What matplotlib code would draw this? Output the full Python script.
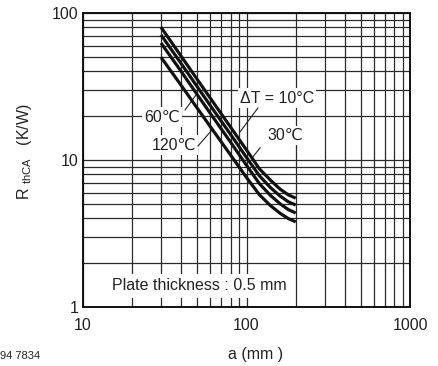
import matplotlib
matplotlib.use("Agg")
import matplotlib.pyplot as plt
from matplotlib.ticker import LogLocator, NullFormatter, FixedLocator, FixedFormatter

plt.rcParams['font.family'] = ['Liberation Sans', 'DejaVu Sans']
plt.rcParams['mathtext.fontset'] = 'custom'
plt.rcParams['mathtext.rm'] = 'Liberation Sans'
plt.rcParams['mathtext.it'] = 'Liberation Sans'

# data
a_mm = [30, 40, 50, 60, 80, 100, 120, 140, 160, 180, 200]
r_dt10 = [80, 50.5, 35.3, 26.4, 16.7, 11.7, 8.7, 7.3, 6.35, 5.8, 5.5]
r_dt30 = [71, 45, 31.5, 23.5, 14.9, 10.4, 7.8, 6.5, 5.7, 5.2, 4.94]
r_dt60 = [62.5, 39.8, 27.8, 20.8, 13.2, 9.2, 6.9, 5.75, 5.05, 4.6, 4.36]
r_dt120 = [50, 32, 22.5, 16.9, 10.8, 7.6, 5.8, 4.9, 4.35, 4.0, 3.79]
x_ticks = [10, 100, 1000]
x_tick_labels = ['10', '100', '1000']
y_ticks = [1, 10, 100]
y_tick_labels = ['1', '10', '100']

fig = plt.figure(figsize=(4.39, 3.66), dpi=100)
ax = fig.add_axes([83/439, 1-307/366, (410-83)/439, (307-13)/366])
ax.set_xscale('log')
ax.set_yscale('log')
ax.set_xlim(10, 1000)
ax.set_ylim(1, 100)

ax.grid(which='both', color='#2a2a2a', lw=0.9, zorder=1)
ax.set_axisbelow(True)

for r in (r_dt10, r_dt30, r_dt60, r_dt120):
    ax.plot(a_mm, r, color='#111111', lw=2.3, solid_capstyle='butt', zorder=4)

ax.xaxis.set_major_locator(FixedLocator(x_ticks))
ax.xaxis.set_major_formatter(FixedFormatter(x_tick_labels))
ax.yaxis.set_major_locator(FixedLocator(y_ticks))
ax.yaxis.set_major_formatter(FixedFormatter(y_tick_labels))
ax.xaxis.set_minor_locator(LogLocator(base=10, subs=range(2, 10)))
ax.yaxis.set_minor_locator(LogLocator(base=10, subs=range(2, 10)))
ax.xaxis.set_minor_formatter(NullFormatter())
ax.yaxis.set_minor_formatter(NullFormatter())
ax.tick_params(which='both', length=0)
ax.tick_params(axis='x', pad=8, labelsize=11.5, colors='#222')
ax.tick_params(axis='y', pad=3, labelsize=11.5, colors='#222')
for s in ax.spines.values():
    s.set_linewidth(1.4)
    s.set_color('#111')

bbox = dict(facecolor='white', edgecolor='none', pad=1.5)
fs = 11.5
fam = ['Liberation Sans', 'DejaVu Sans']
ax.text(153.8, 26.4, 'ΔT = 10°C', ha='center', va='center', fontsize=fs, bbox=bbox, zorder=3, color='#222')
ax.text(171.8, 14.6, '30℃', ha='center', va='center', fontsize=fs, bbox=bbox, zorder=3, color='#222', family=fam)
ax.text(30.4, 19.6, '60℃', ha='center', va='center', fontsize=fs, bbox=bbox, zorder=3, color='#222', family=fam)
ax.text(36.1, 12.65, '120℃', ha='center', va='center', fontsize=fs, bbox=bbox, zorder=3, color='#222', family=fam)
ax.text(51.2, 1.39, 'Plate thickness : 0.5 mm', ha='center', va='center', fontsize=fs,
        bbox=dict(facecolor='white', edgecolor='none', pad=3), zorder=3, color='#222')

# leader lines
leaders = [((117.5, 22.6), (91.2, 15.5)),
           ((121, 12.1), (108, 10.3)),
           ((42.1, 21.9), (49.1, 27.7)),
           ((50.5, 12.45), (61.5, 16.0))]
for (x0, y0), (x1, y1) in leaders:
    ax.plot([x0, x1], [y0, y1], color='#222', lw=0.8, zorder=3.5)

fig.text(25/439, 1-152/366, r'R $_{\mathregular{thCA}}$   (K/W)', rotation=90,
         ha='center', va='center', fontsize=fs, color='#222')
fig.text(256/439, 1-355/366, 'a (mm )', ha='center', va='center', fontsize=fs, color='#222')
fig.text(0/439, 1-356/366, '94 7834', ha='left', va='center', fontsize=8, color='#222')

fig.savefig('out.png', dpi=100)
